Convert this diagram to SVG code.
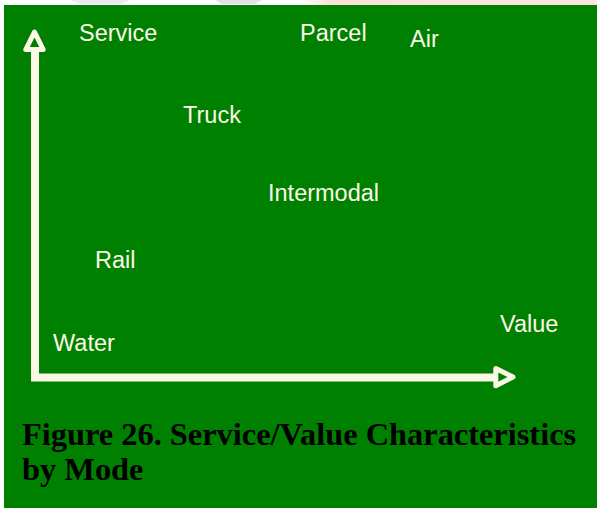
<svg xmlns="http://www.w3.org/2000/svg" width="597" height="508" viewBox="0 0 597 508">
  <style>
    .panel { fill: #008000; }
    .axis { fill: none; stroke: #FBF8E6; stroke-width: 8; stroke-linejoin: miter; }
    .head { fill: #008000; stroke: #FBF8E6; stroke-width: 5; stroke-linejoin: round; }
    .label { font-family: "Liberation Sans", Arial, sans-serif; font-size: 23.5px; fill: #FBF8E6; }
    .caption { font-family: "Liberation Serif", "Times New Roman", serif; font-size: 32.4px; font-weight: bold; fill: #000000; }
  </style>
  <defs>
    <linearGradient id="edgeTint" x1="0" y1="0" x2="1" y2="0">
      <stop offset="0" stop-color="#FFFFFF"/>
      <stop offset="0.1" stop-color="#FDE2DC"/>
      <stop offset="1" stop-color="#FDE6E0"/>
    </linearGradient>
  </defs>

  <!-- page margin and strip along the top edge -->
  <rect x="0" y="0" width="597" height="508" fill="#FFFFFF"/>
  <rect x="300" y="0" width="297" height="5" fill="url(#edgeTint)"/>
  <path d="M70 0 L130 0 L122 4 L80 4 Z" fill="#EBEBEB"/>
  <path d="M215 0 L262 0 L255 4 L222 4 Z" fill="#E2E2E2"/>

  <!-- green panel -->
  <rect class="panel" x="4" y="5" width="593" height="503"/>

  <!-- axes -->
  <g id="connectors">
    <path class="axis" d="M35 50 V377.5 H496"/>
    <polygon class="head" points="34.5,32 25.8,49.5 43.2,49.5"/>
    <polygon class="head" points="513,377 495.8,368.5 495.8,385.7"/>
  </g>

  <g id="service"><text class="label" x="79" y="41">Service</text></g>
  <g id="parcel"><text class="label" x="300" y="41">Parcel</text></g>
  <g id="air"><text class="label" x="410" y="47">Air</text></g>
  <g id="truck"><text class="label" x="183" y="123">Truck</text></g>
  <g id="intermodal"><text class="label" x="268" y="201">Intermodal</text></g>
  <g id="rail"><text class="label" x="95" y="268">Rail</text></g>
  <g id="water"><text class="label" x="53" y="351">Water</text></g>
  <g id="value"><text class="label" x="500" y="332">Value</text></g>

  <g id="caption">
    <text class="caption" x="22" y="445">Figure 26. Service/Value Characteristics</text>
    <text class="caption" x="22" y="480">by Mode</text>
  </g>
</svg>
